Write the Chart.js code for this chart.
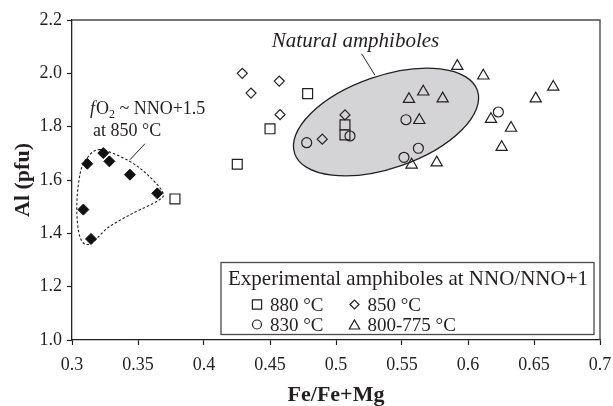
<!DOCTYPE html>
<html lang="en">
<head>
<meta charset="UTF-8">
<title>Al vs Fe/Fe+Mg in amphiboles</title>
<style>
  body { margin: 0; background: #fff; }
  #wrap { width: 613px; height: 406px; }
</style>
</head>
<body>
<div id="wrap"><canvas id="chart" width="613" height="406"></canvas></div>
<script src="https://cdn.jsdelivr.net/npm/chart.js"></script>
<script>
const FONT = '"Liberation Serif", "Times New Roman", serif';
const INK = '#231f20';

// Experimental amphiboles, Fe/Fe+Mg and Al (pfu)
const fe880 = [0.378, 0.4252, 0.450, 0.4785, 0.5068, 0.5068];
const al880 = [1.529, 1.659, 1.792, 1.924, 1.807, 1.769];

const fe850 = [0.429, 0.4356, 0.457, 0.4576, 0.4896, 0.5068];
const al850 = [2.000, 1.926, 1.971, 1.845, 1.753, 1.844];

const fe830 = [0.4778, 0.5106, 0.553, 0.5624, 0.5515, 0.623];
const al830 = [1.740, 1.765, 1.826, 1.719, 1.685, 1.855];

const fe800 = [0.5919, 0.6116, 0.6646, 0.6513, 0.5553, 0.5661, 0.5808, 0.5631, 0.6174, 0.6326, 0.6255, 0.5573, 0.5763];
const al800 = [2.027, 1.991, 1.949, 1.905, 1.903, 1.931, 1.905, 1.824, 1.828, 1.795, 1.723, 1.657, 1.665];

// fO2 ~ NNO+1.5 at 850 °C (black diamonds)
const feOx = [0.3116, 0.3237, 0.3283, 0.3439, 0.3646, 0.3086, 0.3144];
const alOx = [1.661, 1.701, 1.670, 1.620, 1.550, 1.489, 1.379];

// axis ticks
const xTickLabels = ['0.3', '0.35', '0.4', '0.45', '0.5', '0.55', '0.6', '0.65', '0.7'];
const yTickLabels = ['1.0', '1.2', '1.4', '1.6', '1.8', '2.0', '2.2'];

// natural amphibole field: centre, end of long axis, end of short axis
const natCenter = [0.5379, 1.8175];
const natMajorEnd = [0.6071, 1.936];
const natMinorEnd = [0.5492, 1.654];

// dashed outline round the NNO+1.5 group
const blobFe = [0.3212, 0.3427, 0.3578, 0.3687, 0.3654, 0.3452, 0.3275, 0.3136, 0.3061, 0.3036, 0.3061, 0.3111];
const blobAl = [1.714, 1.673, 1.617, 1.554, 1.523, 1.473, 1.422, 1.360, 1.385, 1.498, 1.623, 1.680];

const pts = (xs, ys) => xs.map((x, i) => ({ x: x, y: ys[i] }));

function smoothClosed(ctx, p) {
  const n = p.length;
  ctx.moveTo(p[0].x, p[0].y);
  for (let i = 0; i < n; i++) {
    const p0 = p[(i - 1 + n) % n], p1 = p[i], p2 = p[(i + 1) % n], p3 = p[(i + 2) % n];
    ctx.bezierCurveTo(p1.x + (p2.x - p0.x) / 6, p1.y + (p2.y - p0.y) / 6,
                      p2.x - (p3.x - p1.x) / 6, p2.y - (p3.y - p1.y) / 6, p2.x, p2.y);
  }
  ctx.closePath();
}

const extras = {
  id: 'extras',
  beforeDatasetsDraw(chart) {
    const ctx = chart.ctx;
    const sx = chart.scales.x, sy = chart.scales.y;
    const px = (x, y) => ({ x: sx.getPixelForValue(x), y: sy.getPixelForValue(y) });

    // natural amphiboles field
    const c = px(natCenter[0], natCenter[1]);
    const m = px(natMajorEnd[0], natMajorEnd[1]);
    const n = px(natMinorEnd[0], natMinorEnd[1]);
    const a = Math.hypot(m.x - c.x, m.y - c.y);
    const b = Math.hypot(n.x - c.x, n.y - c.y);
    ctx.save();
    ctx.beginPath();
    ctx.ellipse(c.x, c.y, a, b, Math.atan2(m.y - c.y, m.x - c.x), 0, Math.PI * 2);
    ctx.fillStyle = '#d4d4d6';
    ctx.fill();
    ctx.lineWidth = 1.3;
    ctx.strokeStyle = INK;
    ctx.stroke();

    // dashed group outline
    ctx.beginPath();
    smoothClosed(ctx, blobFe.map((x, i) => px(x, blobAl[i])));
    ctx.setLineDash([2.5, 2]);
    ctx.lineWidth = 1.1;
    ctx.stroke();
    ctx.setLineDash([]);

    // leader lines
    ctx.lineWidth = 1;
    ctx.beginPath();
    let p = px(0.5195, 2.073), q = px(0.5295, 1.993);
    ctx.moveTo(p.x, p.y); ctx.lineTo(q.x, q.y);
    p = px(0.3439, 1.676); q = px(0.3553, 1.736);
    ctx.moveTo(p.x, p.y); ctx.lineTo(q.x, q.y);
    ctx.stroke();
    ctx.restore();
  },
  afterDraw(chart) {
    const ctx = chart.ctx;
    const ca = chart.chartArea;
    const sx = chart.scales.x, sy = chart.scales.y;
    ctx.save();

    // top and right frame
    ctx.strokeStyle = '#4a4a4a';
    ctx.lineWidth = 1.4;
    ctx.beginPath();
    ctx.moveTo(ca.left, ca.top); ctx.lineTo(ca.right, ca.top); ctx.lineTo(ca.right, ca.bottom);
    ctx.stroke();

    ctx.fillStyle = INK;
    ctx.textBaseline = 'alphabetic';

    // Natural amphiboles label
    ctx.font = 'italic 21px ' + FONT;
    ctx.textAlign = 'center';
    ctx.fillText('Natural amphiboles', sx.getPixelForValue(0.5148), sy.getPixelForValue(2.098));

    // fO2 label
    ctx.textAlign = 'left';
    let x = sx.getPixelForValue(0.3136);
    const y1 = sy.getPixelForValue(1.846);
    ctx.font = 'italic 18px ' + FONT;
    ctx.fillText('f', x, y1);
    x += ctx.measureText('f').width + 1;
    ctx.font = '18px ' + FONT;
    ctx.fillText('O', x, y1);
    x += ctx.measureText('O').width;
    ctx.font = '12px ' + FONT;
    ctx.fillText('2', x, y1 + 4);
    x += ctx.measureText('2').width;
    ctx.font = '18px ' + FONT;
    ctx.fillText(' ~ NNO+1.5', x, y1);
    ctx.fillText('at 850 °C', sx.getPixelForValue(0.3159), sy.getPixelForValue(1.764));

    // legend box
    const bx = ca.right - 379, by = ca.bottom - 77.5, bw = 373, bh = 72;
    ctx.fillStyle = '#fff';
    ctx.fillRect(bx, by, bw, bh);
    ctx.strokeStyle = '#4a4a4a';
    ctx.lineWidth = 1.3;
    ctx.strokeRect(bx, by, bw, bh);
    ctx.fillStyle = INK;
    ctx.font = '21px ' + FONT;
    ctx.fillText('Experimental amphiboles at NNO/NNO+1', bx + 7, by + 22.5);

    const items = [
      ['880 °C', 'rect', 6.5, 0, 0],
      ['850 °C', 'rectRot', 4.5, 1, 0],
      ['830 °C', 'circle', 4.5, 0, 1],
      ['800-775 °C', 'triangle', 6, 1, 1]
    ];
    ctx.font = '19px ' + FONT;
    items.forEach(it => {
      const ix = bx + 36 + it[3] * 97.5;
      const iy = by + 42 + it[4] * 20;
      ctx.strokeStyle = INK;
      ctx.fillStyle = 'rgba(0,0,0,0)';
      ctx.lineWidth = 1.2;
      Chart.helpers.drawPoint(ctx, { pointStyle: it[1], radius: it[2], rotation: 0, borderWidth: 1.2 }, ix, iy + (it[1] === 'triangle' ? 1.5 : 0));
      ctx.fillStyle = INK;
      ctx.fillText(it[0], ix + 13, iy + 6.3);
    });
    ctx.restore();
  }
};

const openPoint = (label, data, style, r) => ({
  label: label,
  data: data,
  pointStyle: style,
  pointRadius: r,
  pointHoverRadius: r,
  pointBorderWidth: 1.2,
  borderColor: INK,
  backgroundColor: 'rgba(0,0,0,0)'
});

new Chart(document.getElementById('chart'), {
  type: 'scatter',
  data: {
    datasets: [
      openPoint('880 °C', pts(fe880, al880), 'rect', 7),
      openPoint('850 °C', pts(fe850, al850), 'rectRot', 5),
      openPoint('830 °C', pts(fe830, al830), 'circle', 5),
      openPoint('800-775 °C', pts(fe800, al800), 'triangle', 6.5),
      {
        label: 'fO2 ~ NNO+1.5 at 850 °C',
        data: pts(feOx, alOx),
        pointStyle: 'rectRot',
        pointRadius: 5.5,
        pointBorderWidth: 1,
        borderColor: '#111',
        backgroundColor: '#111'
      }
    ]
  },
  options: {
    responsive: false,
    animation: false,
    layout: { padding: { top: 20, right: 13, left: 0, bottom: 0 } },
    plugins: { legend: { display: false }, tooltip: { enabled: false } },
    scales: {
      x: {
        type: 'linear',
        min: 0.3,
        max: 0.7,
        // fixed axis band; label overhang is covered by the layout padding
        afterFit: s => { s.height = 66; s.paddingLeft = 0; s.paddingRight = 0; },
        ticks: {
          stepSize: 0.05,
          autoSkip: false,
          maxRotation: 0,
          padding: 9,
          color: INK,
          font: { family: FONT, size: 18 },
          callback: (v, i) => xTickLabels[i]
        },
        grid: { drawOnChartArea: false, tickLength: 5, tickColor: INK, tickWidth: 1.2 },
        border: { color: INK, width: 1.3 },
        title: {
          display: true,
          text: 'Fe/Fe+Mg',
          color: INK,
          padding: 0,
          font: { family: FONT, size: 22, weight: 'bold', lineHeight: 0.95 }
        }
      },
      y: {
        min: 1.0,
        max: 2.2,
        afterFit: s => { s.width = 72; s.paddingTop = 0; s.paddingBottom = 0; },
        ticks: {
          stepSize: 0.2,
          padding: 5,
          color: INK,
          font: { family: FONT, size: 18 },
          callback: (v, i) => yTickLabels[i]
        },
        grid: { drawOnChartArea: false, tickLength: 5, tickColor: INK, tickWidth: 1.2 },
        border: { color: INK, width: 1.3 },
        title: {
          display: true,
          text: 'Al (pfu)',
          color: INK,
          padding: { top: 10, bottom: 0 },
          font: { family: FONT, size: 22, weight: 'bold' }
        }
      }
    }
  },
  plugins: [extras]
});
</script>
</body>
</html>
